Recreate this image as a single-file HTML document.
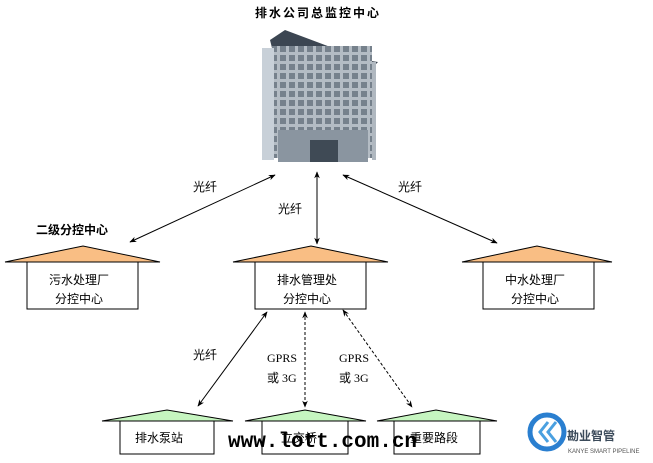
<!DOCTYPE html>
<html><head><meta charset="utf-8"><style>
body{margin:0;background:#fff;width:653px;height:458px;overflow:hidden}
text{font-family:"Liberation Serif","Noto Sans CJK SC",serif;font-size:12px;fill:#000}
.b{font-family:"Liberation Sans","Noto Sans CJK SC",sans-serif;font-weight:bold}
</style></head><body>
<svg width="653" height="458" viewBox="0 0 653 458" xmlns="http://www.w3.org/2000/svg">
<defs>
<marker id="a" viewBox="0 0 10 10" refX="9" refY="5" markerWidth="7" markerHeight="7" orient="auto-start-reverse"><path d="M0,1 L10,5 L0,9 L3,5 z" fill="#000"/></marker>
<pattern id="g" width="9" height="9" patternUnits="userSpaceOnUse"><rect width="9" height="9" fill="#b4bcc4"/><rect x="1" y="1" width="6" height="6" fill="#76818c"/></pattern>
</defs>
<text x="255" y="17" class="b" font-size="13" letter-spacing="2">排水公司总监控中心</text>
<!-- building -->
<polygon points="270,40 285,30 365,60 378,62 372,68 272,48" fill="#3c4652"/>
<rect x="272" y="46" width="100" height="112" fill="url(#g)"/>
<rect x="262" y="48" width="12" height="112" fill="#c8d0d8"/>
<rect x="372" y="62" width="4" height="98" fill="#b0b8c0"/>
<rect x="278" y="130" width="90" height="32" fill="#8a95a0"/>
<rect x="310" y="140" width="28" height="22" fill="#3f4a55"/>
<g stroke="#000" stroke-width="1" fill="none">
<line x1="275" y1="175" x2="130" y2="242" marker-start="url(#a)" marker-end="url(#a)"/>
<line x1="317" y1="172" x2="317" y2="244" marker-start="url(#a)" marker-end="url(#a)"/>
<line x1="343" y1="175" x2="497" y2="243" marker-start="url(#a)" marker-end="url(#a)"/>
<line x1="267" y1="312" x2="198" y2="406" marker-start="url(#a)" marker-end="url(#a)"/>
<line x1="305" y1="312" x2="305" y2="407" stroke-dasharray="3,2" marker-start="url(#a)" marker-end="url(#a)"/>
<line x1="343" y1="310" x2="412" y2="407" stroke-dasharray="3,2" marker-start="url(#a)" marker-end="url(#a)"/>
</g>
<text x="193" y="191">光纤</text>
<text x="278" y="213">光纤</text>
<text x="398" y="191">光纤</text>
<text x="193" y="359">光纤</text>
<text x="267" y="362">GPRS</text>
<text x="267" y="382">或 3G</text>
<text x="339" y="362">GPRS</text>
<text x="339" y="382">或 3G</text>
<text x="36" y="234" class="b">二级分控中心</text>
<g stroke="#000" stroke-width="1">
<rect x="27" y="262" width="111" height="47" fill="#fff"/>
<polygon points="5,262 83,246 160,262" fill="#f9be84"/>
<rect x="255" y="262" width="111" height="47" fill="#fff"/>
<polygon points="233,262 311,246 388,262" fill="#f9be84"/>
<rect x="483" y="262" width="111" height="47" fill="#fff"/>
<polygon points="462,262 537,246 612,262" fill="#f9be84"/>
</g>
<text x="49" y="284">污水处理厂</text><text x="55" y="303">分控中心</text>
<text x="277" y="284">排水管理处</text><text x="283" y="303">分控中心</text>
<text x="505" y="284">中水处理厂</text><text x="511" y="303">分控中心</text>
<g stroke="#000" stroke-width="1">
<rect x="120" y="421" width="94" height="33" fill="#fff"/>
<polygon points="102,421 167,410 233,421" fill="#c6f5c0"/>
<rect x="262" y="421" width="86" height="33" fill="#fff"/>
<polygon points="245,421 305,410 366,421" fill="#c6f5c0"/>
<rect x="394" y="421" width="86" height="33" fill="#fff"/>
<polygon points="377,421 436,410 497,421" fill="#c6f5c0"/>
</g>
<text x="135" y="442">排水泵站</text>
<text x="281" y="442">立交桥</text>
<text x="410" y="442">重要路段</text>
<text x="228" y="447" style="font-family:'Liberation Mono',monospace;font-weight:bold;font-size:21px">www.lott.com.cn</text>
<circle cx="547" cy="432" r="17" fill="none" stroke="#2a7fd0" stroke-width="5"/>
<path d="M548,422 L540,432 L548,442 M556,422 L548,432 L556,442" stroke="#4aa0e0" stroke-width="3" fill="none"/>
<text x="567" y="440" class="b" font-size="20" style="fill:#3b4a5a">勘业智管</text>
<text x="568" y="453" style="font-family:'Liberation Sans',sans-serif;font-size:6px;fill:#555">KANYE SMART PIPELINE</text>
</svg>
</body></html>
